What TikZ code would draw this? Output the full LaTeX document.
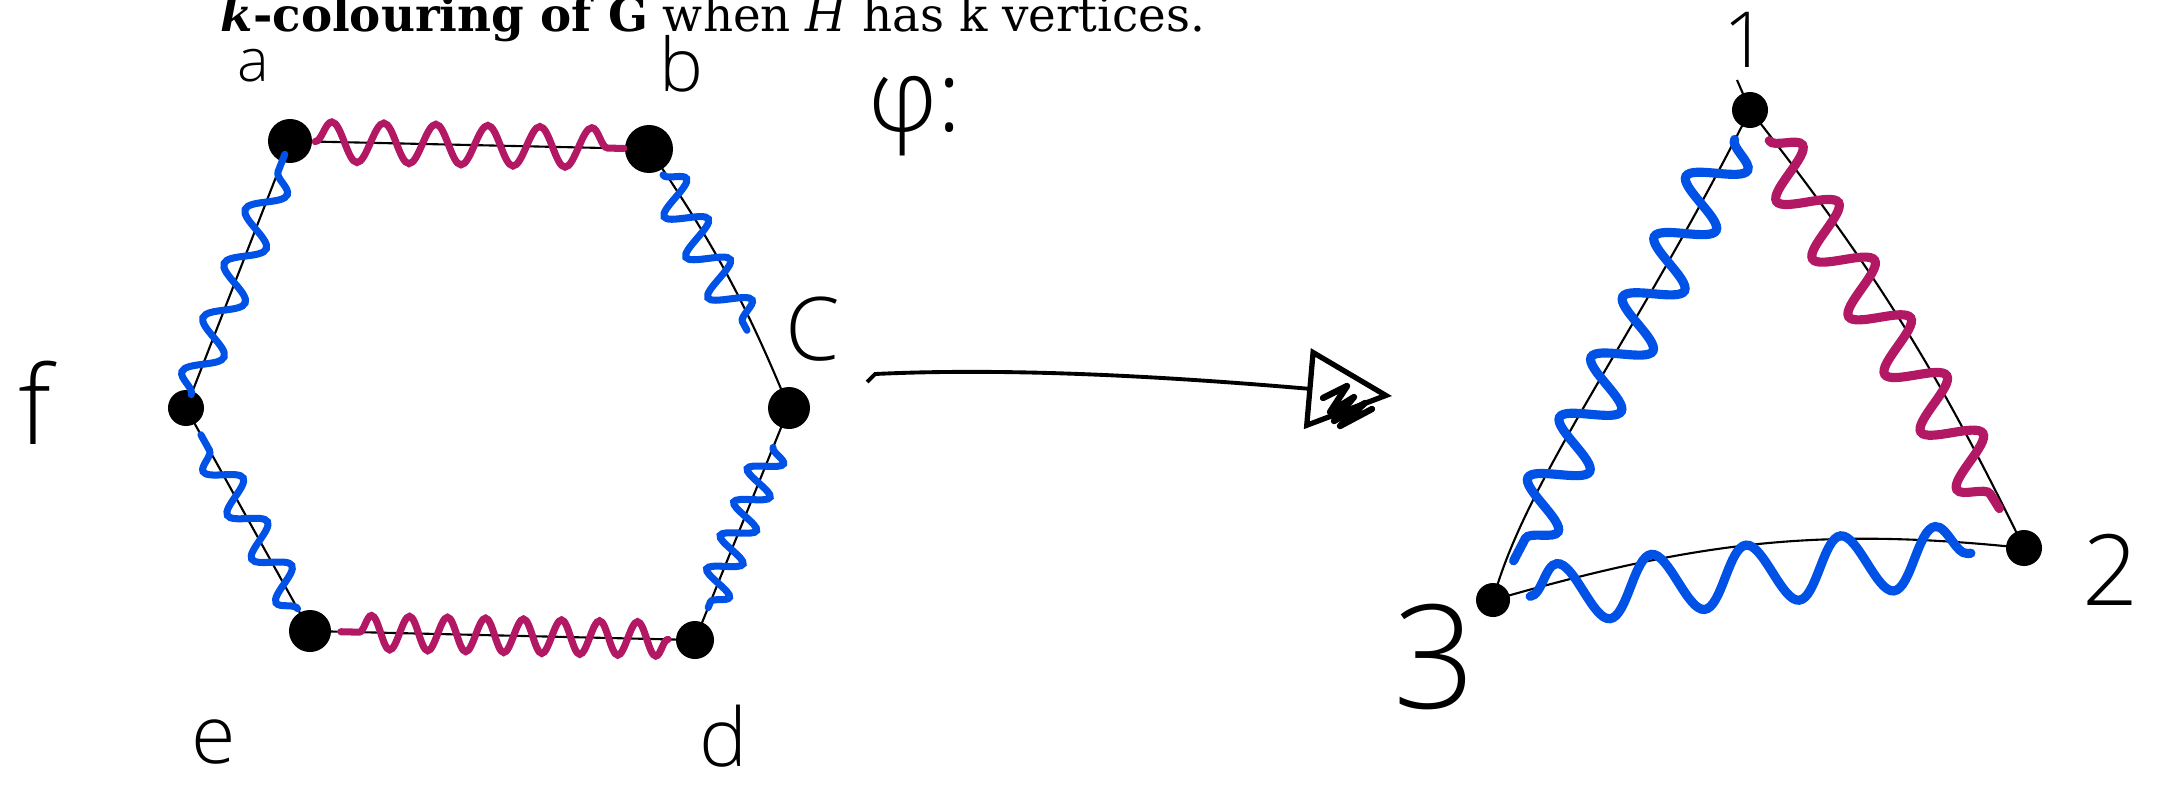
\documentclass[tikz,border=0pt]{standalone}
\usepackage{fontspec}
\setmainfont{DejaVu Serif}
\newfontfamily\handfont{Open Sans Light}
\usetikzlibrary{calc,decorations.pathmorphing,arrows.meta}
\definecolor{wavered}{RGB}{178,24,100}
\definecolor{waveblue}{RGB}{0,82,230}
\tikzset{
	vtx/.style={circle, fill=black, inner sep=0pt, minimum size=#1},
	vtx/.default=0.4cm,
	edge/.style={line width=0.6pt},
	hand/.style={font=\handfont\fontsize{#1}{#1}\selectfont, inner sep=0pt},
}

\begin{document}
\begin{tikzpicture}[x=0.01cm, y=-0.01cm, >=latex]
	\useasboundingbox (0,0) rectangle (2164,784);
	\node[anchor=base west, inner sep=0pt, font=\fontsize{13.3pt}{14pt}\selectfont] (title) at (220,31)
	{\textbf{\textit{k}-colouring of G} when \textit{H} has k vertices.};

	% hexagon G
	\node[vtx=0.44cm] (a) at (290,141) {};
	\node[vtx=0.48cm] (b) at (649,149) {};
	\node[vtx=0.42cm] (c) at (789,408) {};
	\node[vtx=0.38cm] (d) at (695,640) {};
	\node[vtx=0.42cm] (e) at (310,631) {};
	\node[vtx=0.36cm] (f) at (186,408) {};
	\draw[edge] (a.center) -- (b.center) to[bend left=6] (c.center) -- (d.center)
		-- (e.center) -- (f.center) -- (a.center);

	% triangle H
	\node[vtx=0.36cm] (n1) at (1750,110) {};
	\node[vtx=0.36cm] (n2) at (2024,548) {};
	\node[vtx=0.34cm] (n3) at (1493,600) {};
	\coordinate (tail1) at (1737,80);
	\draw[edge] (tail1) -- (n1.center) to[bend left=6] (n2.center);
	\draw[edge] (n1.center) .. controls (1640,330) and (1525,480) .. (n3.center);
	\draw[edge] (n3.center) to[out=16, in=174] (n2.center);

	% colour classes
	\foreach \u/\v/\s/\t/\col/\seg/\amp in {
			a/b/0.07/0.93/wavered/0.52cm/0.2cm,
			b/c/0.10/0.70/waveblue/0.46cm/0.19cm,
			c/d/0.17/0.86/waveblue/0.36cm/0.16cm,
			d/e/0.07/0.92/wavered/0.38cm/0.17cm,
			e/f/0.10/0.88/waveblue/0.5cm/0.16cm,
			f/a/0.05/0.95/waveblue/0.58cm/0.17cm
		} {
			\draw[\col, line width=2pt, line cap=round, decorate,
				decoration={snake, segment length=\seg, amplitude=\amp}]
			($(\u)!\s!(\v)$) -- ($(\u)!\t!(\v)$);
		}
	\foreach \u/\v/\s/\t/\col/\seg/\amp in {
			n1/n3/0.06/0.92/waveblue/0.68cm/0.26cm,
			n1/n2/0.07/0.91/wavered/0.68cm/0.26cm,
			n3/n2/0.07/0.90/waveblue/0.95cm/0.3cm
		} {
			\draw[\col, line width=2.6pt, line cap=round, decorate,
				decoration={snake, segment length=\seg, amplitude=\amp}]
			($(\u)!\s!(\v)$) -- ($(\u)!\t!(\v)$);
		}

	% the map
	\coordinate (phistart) at (867,382);
	\coordinate (phiend) at (1392,396);
	\draw[line width=1.1pt, -{Triangle[open, length=0.85cm, width=0.8cm, line width=1.5pt]}]
	(phistart) -- ++(8,-8) .. controls (1000,368) and (1150,375) .. (phiend);
	\draw[line width=1.8pt, line cap=round, line join=round]
	(1323,398) -- (1347,386) -- (1330,412) -- (1354,397) -- (1334,421)
	-- (1365,403) -- (1340,426) -- (1372,409);
	\node[hand=29pt] (phi) at (915,116) {φ:};

	% labels
	\node[hand=17pt] (la) at (253,66) {a};
	\node[hand=21pt] (lb) at (681,64) {b};
	\node[hand=25pt] (lc) at (813,329) {C};
	\node[hand=23pt] (ld) at (724,736) {d};
	\node[hand=23pt] (le) at (214,742) {e};
	\node[hand=31pt] (lf) at (35,403) {f};
	\node[hand=22pt] (l1) at (1746,40) {1};
	\node[hand=28pt] (l2) at (2111,570) {2};
	\node[hand=41pt] (l3) at (1435,657) {3};
\end{tikzpicture}
\end{document}
